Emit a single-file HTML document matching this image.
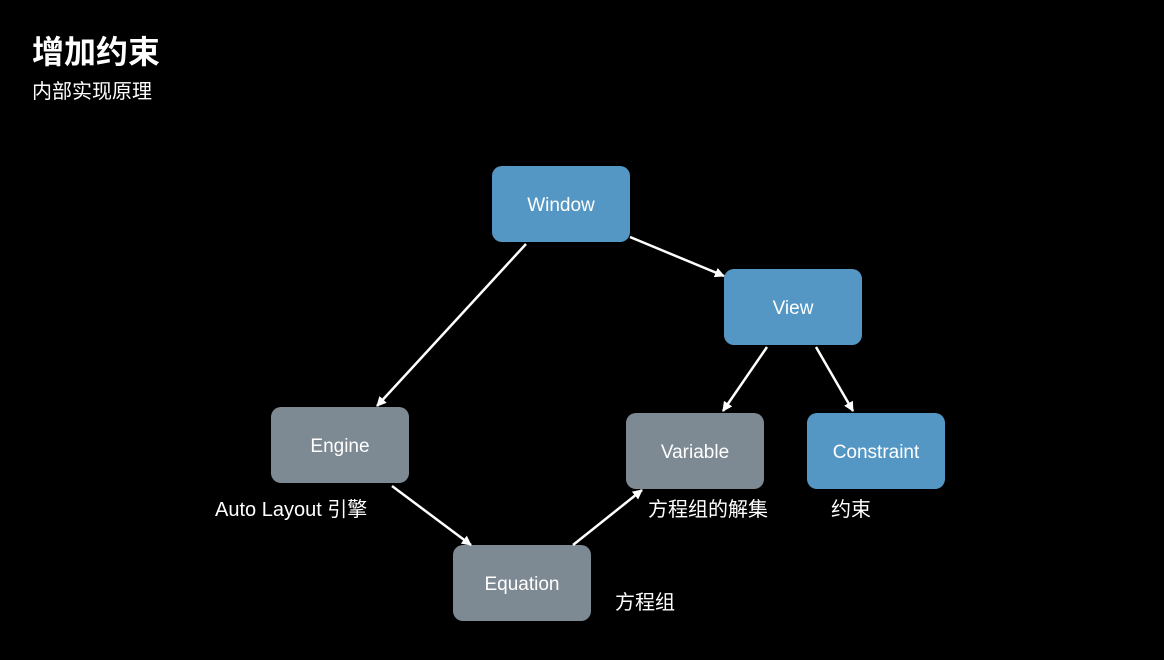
<!DOCTYPE html>
<html><head><meta charset="utf-8"><style>
html,body{margin:0;padding:0;background:#000;}
body{width:1164px;height:655px;overflow:hidden;}
text{font-family:"Liberation Sans","Noto Sans CJK SC",sans-serif;fill:#fff;}
</style></head><body>
<svg width="1164" height="655" viewBox="0 0 1164 655" xmlns="http://www.w3.org/2000/svg">
<defs><marker id="a" markerWidth="10" markerHeight="10" refX="9" refY="5" orient="auto" markerUnits="userSpaceOnUse"><path d="M0,0 L10,5 L0,10 z" fill="#fff"/></marker></defs>
<text x="32" y="63" font-size="32" font-weight="bold">增加约束</text>
<text x="32" y="98" font-size="20">内部实现原理</text>
<g fill="#5597c4">
<rect x="492" y="166" width="138" height="76" rx="10"/>
<rect x="724" y="269" width="138" height="76" rx="10"/>
<rect x="807" y="413" width="138" height="76" rx="10"/>
</g>
<g fill="#7d8993">
<rect x="271" y="407" width="138" height="76" rx="10"/>
<rect x="626" y="413" width="138" height="76" rx="10"/>
<rect x="453" y="545" width="138" height="76" rx="10"/>
</g>
<g stroke="#fff" stroke-width="2.5" marker-end="url(#a)">
<line x1="526" y1="244" x2="377" y2="406"/>
<line x1="630" y1="237" x2="724" y2="276"/>
<line x1="767" y1="347" x2="723" y2="411"/>
<line x1="816" y1="347" x2="853" y2="411"/>
<line x1="392" y1="486" x2="471" y2="545"/>
<line x1="573" y1="545" x2="642" y2="490"/>
</g>
<g font-size="19" text-anchor="middle">
<text x="561" y="211">Window</text>
<text x="793" y="314">View</text>
<text x="340" y="452">Engine</text>
<text x="695" y="458">Variable</text>
<text x="876" y="458">Constraint</text>
<text x="522" y="590">Equation</text>
</g>
<g font-size="20">
<text x="215" y="516">Auto Layout 引擎</text>
<text x="648" y="516">方程组的解集</text>
<text x="831" y="516">约束</text>
<text x="615" y="609">方程组</text>
</g>
</svg>
</body></html>
